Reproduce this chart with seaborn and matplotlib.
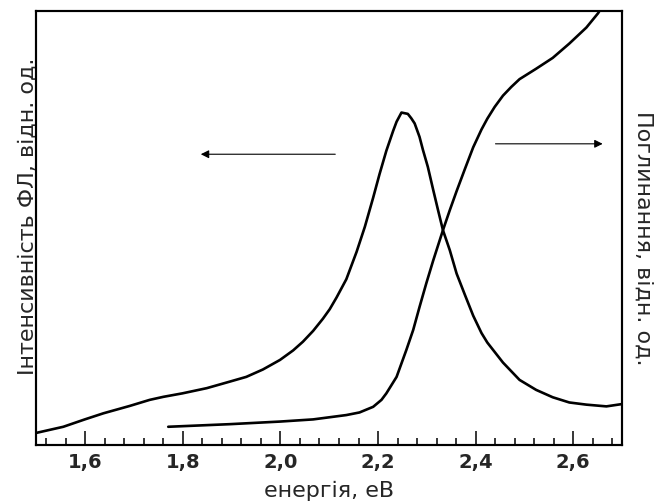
import matplotlib
matplotlib.use("Agg")
import matplotlib.pyplot as plt
import seaborn as sns
import pandas as pd
from matplotlib.ticker import MultipleLocator, FuncFormatter

# Photoluminescence spectrum
pl_energy = [1.50, 1.555, 1.599, 1.637, 1.691, 1.732, 1.760, 1.799, 1.849, 1.896, 1.930, 1.964,
             1.999, 2.026, 2.046, 2.067, 2.087, 2.101, 2.115, 2.135, 2.156, 2.173, 2.190, 2.203,
             2.217, 2.231, 2.238, 2.248, 2.261, 2.268, 2.275, 2.285, 2.292, 2.302, 2.313, 2.323,
             2.333, 2.347, 2.361, 2.378, 2.395, 2.412, 2.424, 2.456, 2.490, 2.524, 2.558, 2.592,
             2.627, 2.668, 2.698]
pl_intensity = [0.028, 0.042, 0.059, 0.073, 0.090, 0.104, 0.111, 0.119, 0.131, 0.146, 0.157, 0.174,
                0.196, 0.218, 0.238, 0.263, 0.291, 0.313, 0.340, 0.382, 0.445, 0.503, 0.570, 0.624,
                0.678, 0.724, 0.745, 0.766, 0.763, 0.753, 0.741, 0.710, 0.680, 0.641, 0.588, 0.541,
                0.495, 0.449, 0.395, 0.346, 0.298, 0.258, 0.236, 0.190, 0.150, 0.127, 0.110, 0.098,
                0.093, 0.089, 0.094]

# Absorption spectrum
abs_energy = [1.770, 1.896, 1.999, 2.067, 2.101, 2.135, 2.162, 2.190, 2.207, 2.217, 2.238, 2.258,
              2.272, 2.285, 2.299, 2.313, 2.333, 2.347, 2.361, 2.378, 2.395, 2.412, 2.424, 2.439,
              2.456, 2.473, 2.490, 2.524, 2.558, 2.592, 2.627, 2.651, 2.670]
abs_value = [0.042, 0.048, 0.054, 0.059, 0.064, 0.069, 0.075, 0.088, 0.104, 0.119, 0.157, 0.219,
             0.265, 0.318, 0.373, 0.425, 0.495, 0.541, 0.585, 0.636, 0.686, 0.727, 0.752, 0.779,
             0.805, 0.825, 0.843, 0.867, 0.892, 0.925, 0.962, 0.995, 1.030]

x_ticks = [1.6, 1.8, 2.0, 2.2, 2.4, 2.6]

pl_df = pd.DataFrame({"energy": pl_energy, "value": pl_intensity})
abs_df = pd.DataFrame({"energy": abs_energy, "value": abs_value})

sns.set_style("ticks")
plt.rcParams["font.family"] = ["DejaVu Sans"]

fig = plt.figure(figsize=(6.54, 5.03), dpi=100)
ax = fig.add_axes([0.0558, 0.1153, 0.8953, 0.8628])

sns.lineplot(data=pl_df, x="energy", y="value", ax=ax, color="black", linewidth=1.9,
             solid_joinstyle="round")
ax2 = ax.twinx()
sns.lineplot(data=abs_df, x="energy", y="value", ax=ax2, color="black", linewidth=1.9,
             solid_joinstyle="round")

for a in (ax, ax2):
    a.set_xlim(1.5, 2.7)
    a.set_ylim(0, 1)
    a.set_yticks([])
    for s in a.spines.values():
        s.set_linewidth(1.5)
        s.set_color("black")

ax.set_xticks(x_ticks)
ax.xaxis.set_minor_locator(MultipleLocator(0.04))
ax.xaxis.set_major_formatter(FuncFormatter(lambda v, p: f"{v:.1f}".replace(".", ",")))
ax.tick_params(axis="x", which="major", direction="in", length=10, width=1.3, labelsize=14, pad=6)
ax.tick_params(axis="x", which="minor", direction="in", length=5, width=1.3)
for lbl in ax.get_xticklabels():
    lbl.set_fontweight("bold")

ax.set_xlabel("енергія, еВ", fontsize=16, labelpad=6)
ax.set_ylabel("Інтенсивність ФЛ, відн. од.", fontsize=16)
ax.yaxis.set_label_coords(0.002, 0.528)
ax2.set_ylabel("Поглинання, відн. од.", fontsize=16, rotation=270)
ax2.yaxis.set_label_coords(1.054, 0.477)

ax.annotate("", xy=(1.831, 0.670), xytext=(2.118, 0.670),
            arrowprops=dict(arrowstyle="-|>", color="black", lw=0.8, mutation_scale=12))
ax.annotate("", xy=(2.666, 0.694), xytext=(2.435, 0.694),
            arrowprops=dict(arrowstyle="-|>", color="black", lw=0.8, mutation_scale=12))

fig.savefig("out.png", dpi=100)
